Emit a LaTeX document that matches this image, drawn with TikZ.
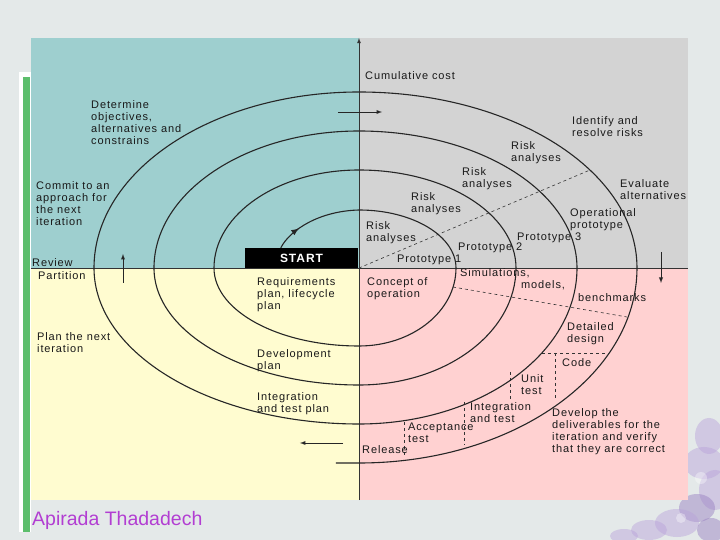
\documentclass[tikz,border=0pt]{standalone}
\usepackage{fontspec}
\setmainfont{Liberation Sans}[LetterSpace=8]
\newfontfamily\namefont{Liberation Sans}
\usetikzlibrary{decorations.markings}

\definecolor{slidegray}{RGB}{228,233,233}
\definecolor{quadteal}{RGB}{158,207,207}
\definecolor{quadgray}{RGB}{211,211,211}
\definecolor{quadyellow}{RGB}{255,252,208}
\definecolor{quadpink}{RGB}{255,209,209}
\definecolor{barGreen}{RGB}{92,190,108}
\definecolor{namePurple}{RGB}{178,62,210}
\definecolor{petal}{RGB}{184,162,218}
\definecolor{petalDark}{RGB}{150,124,192}

\begin{document}
\begin{tikzpicture}[
    x=1pt, y=1pt,
    % Text placed in the quadrants
    phase text/.style={
        anchor=north west, inner sep=0pt, align=left,
        font=\fontsize{11}{12}\selectfont, text=black!90
    },
    % The spiral itself
    spiral line/.style={
        line width=1.1pt, black!85
    },
    % Axes through the middle
    axis line/.style={
        line width=0.8pt, black!80, >=latex
    },
    % Small direction arrows
    flow arrow/.style={
        ->, >=latex, line width=0.9pt, black!85
    },
    % Dashed borders between phases
    phase split/.style={
        dashed, line width=0.6pt, black!80
    },
    % Black start label
    start box/.style={
        rectangle, fill=black, text=white, inner sep=0pt,
        minimum width=113, minimum height=20,
        font=\fontsize{12}{12}\selectfont\bfseries
    },
    % Blurry petals of the slide flower
    petal blob/.style={
        petal, opacity=0.45
    }
]

\useasboundingbox (-359,-272) rectangle (361,268);
\fill[slidegray] (-359,-272) rectangle (361,268);

% --- Slide decoration ---
\begin{scope}
\clip (-359,-272) rectangle (361,268);
\fill[petal blob] (350,-168) ellipse (14 and 18);
\fill[petal blob] (345,-195) ellipse (20 and 16);
\fill[petal blob] (356,-222) ellipse (16 and 20);
\fill[petal blob, petalDark] (338,-240) ellipse (18 and 14);
\fill[petal blob] (318,-255) ellipse (22 and 14);
\fill[petal blob] (290,-262) ellipse (18 and 10);
\fill[petal blob, petalDark] (352,-262) ellipse (14 and 12);
\fill[petal blob] (265,-268) ellipse (14 and 7);
\fill[white, opacity=0.35] (342,-210) circle (6);
\fill[white, opacity=0.35] (322,-250) circle (5);
\end{scope}
\fill[white] (-340,196) rectangle (-328,-264);
\fill[barGreen] (-336,191) rectangle (-329,-264);

% --- Quadrants ---
% Top left
\fill[quadteal] (-328,0) rectangle (0,230);
% Top right
\fill[quadgray] (0,0) rectangle (329,230);
% Bottom left
\fill[quadyellow] (-328,-232) rectangle (0,0);
% Bottom right
\fill[quadpink] (0,-232) rectangle (329,0);

% --- Axes ---
\draw[axis line, ->] (0,-232) -- (0,230);
\draw[axis line] (-328,0) -- (329,0);

% --- Dashed phase borders ---
\draw[phase split] (0,0) -- (231,98);
\draw[phase split] (94,-19) -- (268,-49);
\draw[phase split] (183,-85) -- (249,-85);
\draw[phase split] (196,-85) -- (196,-132);
\draw[phase split] (151,-104) -- (151,-134);
\draw[phase split] (105,-134) -- (105,-177);
\draw[phase split] (45,-154) -- (45,-190);

% --- Spiral ---
\node[start box] (start) at (-57.5,10) {START};
\draw[spiral line, postaction={decorate},
      decoration={markings, mark=at position 0.3 with {\arrow[scale=1.3]{latex}}}]
    ([xshift=36]start.north west) .. controls (-69,38) and (-40,57) .. (0,58);
\draw[spiral line] (0,58)
    arc[start angle=90, end angle=0, x radius=97, y radius=58]
    arc[start angle=0, end angle=-90, x radius=97, y radius=78]
    arc[start angle=-90, end angle=-180, x radius=145, y radius=78]
    arc[start angle=180, end angle=90, x radius=145, y radius=98]
    arc[start angle=90, end angle=0, x radius=157, y radius=98]
    arc[start angle=0, end angle=-90, x radius=157, y radius=117]
    arc[start angle=-90, end angle=-180, x radius=205, y radius=117]
    arc[start angle=180, end angle=90, x radius=205, y radius=137]
    arc[start angle=90, end angle=0, x radius=218, y radius=137]
    arc[start angle=0, end angle=-90, x radius=218, y radius=156]
    arc[start angle=-90, end angle=-180, x radius=265, y radius=156]
    arc[start angle=180, end angle=90, x radius=265, y radius=176]
    arc[start angle=90, end angle=0, x radius=278, y radius=176]
    arc[start angle=0, end angle=-90, x radius=278, y radius=195]
    -- (-23,-195);

% --- Direction arrows ---
\draw[flow arrow] (-21,156) -- (23,156);
\draw[flow arrow] (302,16) -- (302,-15);
\draw[flow arrow] (-16,-175) -- (-59,-175);
\draw[flow arrow] (-236,-15) -- (-236,14);

% --- Top left texts ---
\node[phase text] (objectives) at (-268,168) {Determine\\objectives,\\alternatives and\\constrains};
\node[phase text] (commit) at (-323,87) {Commit to an\\approach for\\the next\\iteration};
\node[phase text] (review) at (-327,10) {Review};
\node[phase text] (partition) at (-321,-3) {Partition};

% --- Bottom left texts ---
\node[phase text] (plannext) at (-322,-64) {Plan the next\\iteration};
\node[phase text] (reqplan) at (-102,-9) {Requirements\\plan, lifecycle\\plan};
\node[phase text] (devplan) at (-102,-81) {Development\\plan};
\node[phase text] (testplan) at (-102,-124) {Integration\\and test plan};

% --- Top right texts ---
\node[phase text] (cost) at (6,197) {Cumulative cost};
\node[phase text] (identify) at (213,152) {Identify and\\resolve risks};
\node[phase text] (risk4) at (152,127) {Risk\\analyses};
\node[phase text] (risk3) at (103,101) {Risk\\analyses};
\node[phase text] (risk2) at (52,76) {Risk\\analyses};
\node[phase text] (risk1) at (7,47) {Risk\\analyses};
\node[phase text] (evaluate) at (261,89) {Evaluate\\alternatives};
\node[phase text] (opproto) at (211,60) {Operational\\prototype};
\node[phase text] (proto3) at (158,35) {Prototype 3};
\node[phase text] (proto2) at (99,25) {Prototype 2};
\node[phase text] (proto1) at (38,13) {Prototype 1};

% --- Bottom right texts ---
\node[phase text] (simul) at (101,0) {Simulations,};
\node[phase text] (models) at (162,-12) {models,};
\node[phase text] (bench) at (219,-25) {benchmarks};
\node[phase text] (concept) at (8,-9) {Concept of\\operation};
\node[phase text] (design) at (208,-54) {Detailed\\design};
\node[phase text] (code) at (203,-90) {Code};
\node[phase text] (unittest) at (162,-106) {Unit\\test};
\node[phase text] (inttest) at (111,-134) {Integration\\and test};
\node[phase text] (acctest) at (49,-155) {Acceptance\\test};
\node[phase text] (release) at (3,-177) {Release};
\node[phase text] (develop) at (193,-140) {Develop the\\deliverables for the\\iteration and verify\\that they are correct};

% --- Footer ---
\node[anchor=west, inner sep=0pt, text=namePurple, font=\namefont\fontsize{19.5}{20}\selectfont]
    (author) at (-327,-252) {Apirada Thadadech};

\end{tikzpicture}
\end{document}
